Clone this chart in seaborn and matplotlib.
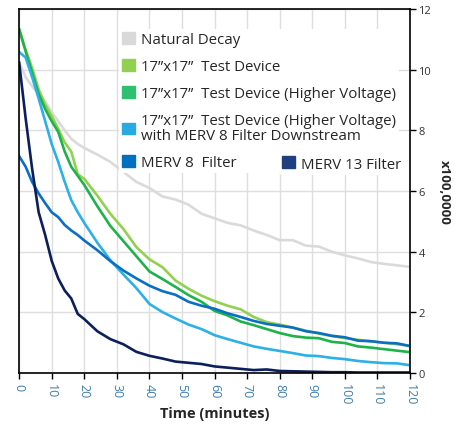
import pandas as pd
import matplotlib.pyplot as plt
import matplotlib.patches as mpatches
import seaborn as sns

time_min = [0, 2, 4, 6, 8, 10, 12, 14, 16, 18, 20, 24, 28, 32, 36, 40, 44, 48,
            52, 56, 60, 64, 68, 72, 76, 80, 84, 88, 92, 96, 100, 104, 108, 112, 116, 120]

natural_decay = [10.25, 9.75, 9.45, 9.2, 8.95, 8.6, 8.3, 8.0, 7.72, 7.55, 7.42, 7.2, 6.96, 6.63,
                 6.3, 6.1, 5.82, 5.72, 5.55, 5.25, 5.1, 4.95, 4.87, 4.7, 4.55, 4.38, 4.38, 4.2,
                 4.17, 4.0, 3.88, 3.78, 3.66, 3.6, 3.55, 3.5]
test_device = [11.34, 10.65, 10.05, 9.35, 8.85, 8.47, 8.05, 7.6, 7.3, 6.55, 6.4, 5.85, 5.25, 4.75,
               4.15, 3.75, 3.49, 3.05, 2.78, 2.55, 2.37, 2.22, 2.1, 1.85, 1.68, 1.6, 1.5, 1.4,
               1.3, 1.22, 1.15, 1.1, 1.05, 1.0, 0.95, 0.9]
higher_voltage = [11.34, 10.6, 9.9, 9.2, 8.7, 8.3, 7.95, 7.3, 6.8, 6.5, 6.2, 5.5, 4.85, 4.35,
                  3.85, 3.35, 3.1, 2.84, 2.57, 2.35, 2.05, 1.9, 1.7, 1.58, 1.45, 1.32, 1.22, 1.17,
                  1.15, 1.03, 0.99, 0.88, 0.84, 0.79, 0.74, 0.69]
hv_merv8_downstream = [10.58, 10.4, 9.75, 9.05, 8.3, 7.55, 6.96, 6.3, 5.7, 5.3, 4.95, 4.3, 3.72, 3.25,
                       2.8, 2.28, 2.01, 1.8, 1.6, 1.45, 1.25, 1.12, 1.0, 0.88, 0.8, 0.73, 0.66, 0.58,
                       0.56, 0.5, 0.46, 0.4, 0.36, 0.33, 0.32, 0.26]
merv8 = [7.15, 6.8, 6.3, 5.92, 5.6, 5.3, 5.14, 4.88, 4.7, 4.55, 4.37, 4.05, 3.69, 3.38,
         3.12, 2.88, 2.7, 2.58, 2.35, 2.22, 2.12, 1.97, 1.85, 1.72, 1.62, 1.56, 1.5, 1.38,
         1.32, 1.23, 1.18, 1.07, 1.05, 1.0, 0.98, 0.89]
merv13 = [10.25, 8.4, 6.73, 5.3, 4.55, 3.7, 3.12, 2.72, 2.46, 1.95, 1.78, 1.38, 1.12, 0.95,
          0.7, 0.57, 0.48, 0.38, 0.34, 0.3, 0.22, 0.18, 0.14, 0.1, 0.12, 0.07, 0.06, 0.05,
          0.04, 0.03, 0.03, 0.02, 0.02, 0.02, 0.02, 0.02]

series_names = ["Natural Decay", "17”x17”  Test Device", "17”x17”  Test Device (Higher Voltage)",
                "17”x17”  Test Device (Higher Voltage)\nwith MERV 8 Filter Downstream",
                "MERV 8  Filter", "MERV 13 Filter"]
series_values = [natural_decay, test_device, higher_voltage, hv_merv8_downstream, merv8, merv13]
line_colors = ["#dadada", "#92d050", "#1db34a", "#2cb0e6", "#0a6fc2", "#0b1f5c"]
legend_colors = ["#d9d9d9", "#92d050", "#2fbf71", "#29abe2", "#0070c0", "#203f7f"]

rows = []
for name, vals in zip(series_names, series_values):
    for t, v in zip(time_min, vals):
        rows.append({"Time": t, "Value": v, "Series": name})
df = pd.DataFrame(rows)

sns.set_style("white")
plt.rcParams['font.family'] = ['Open Sans', 'DejaVu Sans']

fig = plt.figure(figsize=(4.66, 4.31), dpi=100)
ax = fig.add_axes([0.041, 0.132, 0.839, 0.845])

sns.lineplot(data=df, x="Time", y="Value", hue="Series", hue_order=series_names,
             palette=line_colors, linewidth=1.9, legend=False, ax=ax)

ax.set_xlim(0, 120)
ax.set_ylim(0, 12)
ax.set_xticks(range(0, 121, 10))
ax.set_yticks(range(0, 13, 2))
ax.grid(True, color="#dedede", linewidth=1)
ax.set_axisbelow(True)
for s in ax.spines.values():
    s.set_color("black")
    s.set_linewidth(1.2)
    s.set_visible(True)

ax.yaxis.tick_right()
ax.yaxis.set_label_position("right")
ax.tick_params(axis='y', which='both', right=True, left=False, length=4, width=1,
               color="black", labelsize=8, labelcolor="#333333", pad=2)
ax.tick_params(axis='x', bottom=True, length=4, width=1, color="black",
               labelsize=9, labelcolor="#3f7fa9", pad=3)
plt.setp(ax.get_xticklabels(), rotation=270)

ax.set_xlabel("Time (minutes)", fontsize=10.5, fontweight="bold", labelpad=1)
ax.set_ylabel("x100,0000", fontsize=9.5, fontweight="bold", rotation=270, labelpad=14)

handles = [mpatches.Patch(color=c, label=n) for c, n in zip(legend_colors[:5], series_names[:5])]
leg = ax.legend(handles=handles, loc="upper left", bbox_to_anchor=(0.255, 0.945),
                frameon=True, framealpha=1, edgecolor="none", facecolor="white",
                fontsize=10.8, handlelength=0.85, handleheight=0.85, handletextpad=0.4,
                labelspacing=0.8, borderpad=0.2, borderaxespad=0)
for txt in leg.get_texts():
    txt.set_linespacing(0.95)
ax.add_artist(leg)
leg2 = ax.legend(handles=[mpatches.Patch(color=legend_colors[5], label=series_names[5])],
                 loc="upper left", bbox_to_anchor=(0.665, 0.603),
                 frameon=True, framealpha=1, edgecolor="none", facecolor="white",
                 fontsize=10.8, handlelength=0.85, handleheight=0.85, handletextpad=0.4,
                 borderpad=0.2, borderaxespad=0)

fig.savefig("out.png", dpi=100)
